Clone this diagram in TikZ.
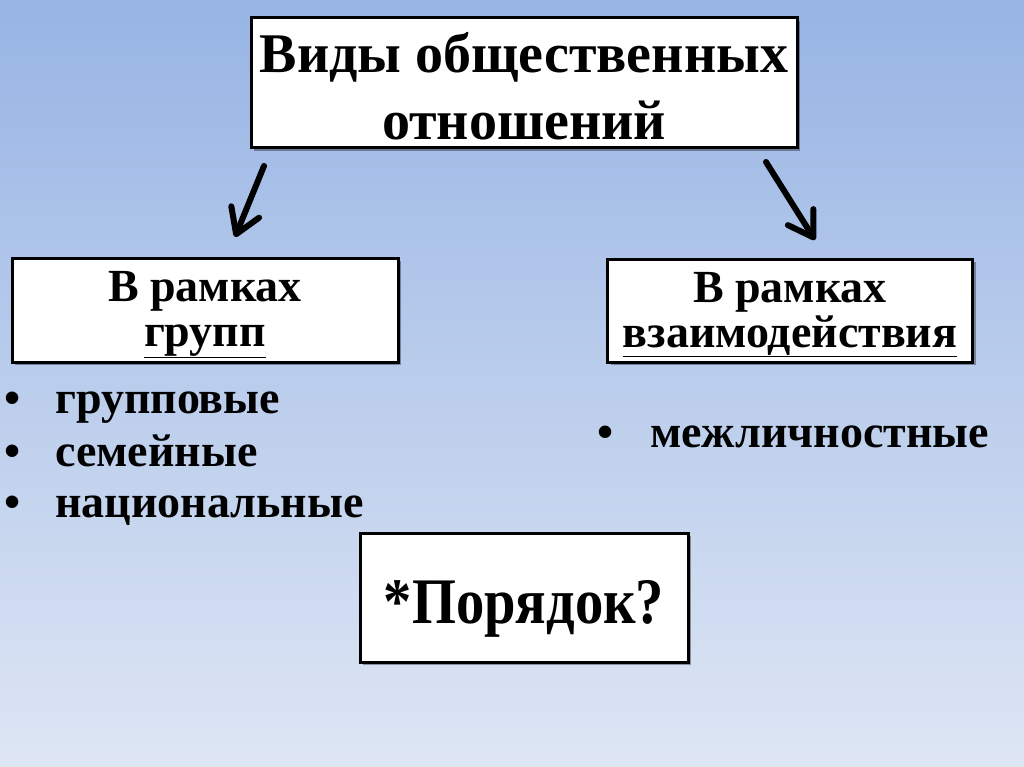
\documentclass[tikz,border=0pt]{standalone}
\usepackage{fontspec}
\setmainfont{Liberation Serif}
\usetikzlibrary{arrows.meta,shadows}
\definecolor{bgtop}{RGB}{151,180,228}
\definecolor{bgbot}{RGB}{222,230,244}
\begin{document}
\begin{tikzpicture}[x=1pt,y=-1pt,
  box/.style={draw=black,line width=3pt,fill=white,inner sep=0pt,align=center,
    drop shadow={shadow xshift=3pt,shadow yshift=-3pt,fill=black,opacity=0.35}},
  arr/.style={line width=6pt,line cap=round,-{Straight Barb[length=24pt,width=30pt,line cap=round,line join=round]}},
  item/.style={anchor=base west,inner sep=0pt,font=\fontsize{46}{50}\selectfont\bfseries}
]
\useasboundingbox (0,0) rectangle (1024,767);
\shade[top color=bgtop,bottom color=bgbot] (0,0) rectangle (1024,767);

\node[box,minimum width=546pt,minimum height=130pt,text height=122pt,text depth=8pt,
  font=\fontsize{56}{67}\selectfont\bfseries] (title) at (524,83) {Виды общественных\\отношений};
\node[box,minimum width=386pt,minimum height=104pt,text height=88pt,text depth=16pt,
  font=\fontsize{46}{45}\selectfont\bfseries] (left) at (205,310) {В рамках\\\underline{групп}};
\node[box,minimum width=365pt,minimum height=103pt,text height=88pt,text depth=15pt,
  font=\fontsize{46}{45}\selectfont\bfseries] (right) at (790,310.5) {В рамках\\\underline{взаимодействия}};
\node[box,minimum width=328pt,minimum height=129pt,text height=90pt,text depth=39pt,
  font=\fontsize{65}{70}\selectfont\bfseries] (order) at (524,597.5) {\scalebox{0.87}[1]{*Порядок?}};

\coordinate (la) at (264,166);
\coordinate (lb) at (235,237);
\coordinate (ra) at (766,162);
\coordinate (rb) at (815,240);
\draw[arr] (la) -- (lb);
\draw[arr] (ra) -- (rb);

\node[item] (b1) at (4,413) {•};
\node[item] (i1) at (55,413) {групповые};
\node[item] (b2) at (4,466) {•};
\node[item] (i2) at (55,466) {семейные};
\node[item] (b3) at (4,517) {•};
\node[item] (i3) at (55,517) {национальные};
\node[item] (b4) at (597,447) {•};
\node[item] (i4) at (650,447) {межличностные};
\end{tikzpicture}
\end{document}
